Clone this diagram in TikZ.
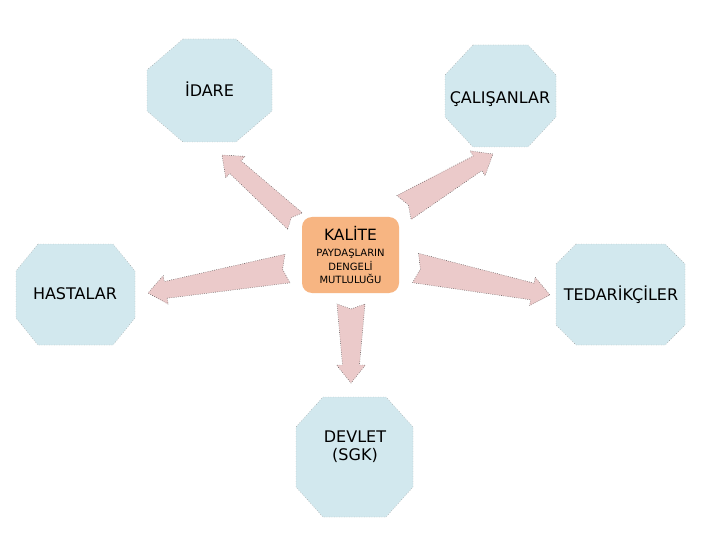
\documentclass[tikz,border=0pt]{standalone}
\usepackage{fontspec}
\setmainfont{DejaVu Sans}
\usetikzlibrary{calc}
\definecolor{octfill}{HTML}{D2E8EE}
\definecolor{arrfill}{HTML}{EBCACA}
\definecolor{kalfill}{HTML}{F7B582}
\tikzset{
  octa/.style={fill=octfill, draw=black!45, line width=0.4pt, dash pattern=on 0.5pt off 2pt},
  barrow/.style={fill=arrfill, draw=black!75, line width=0.45pt, dash pattern=on 0.6pt off 1.6pt},
  lbl/.style={font=\fontsize{16}{18}\selectfont, inner sep=0pt, align=center},
  oneline/.style={lbl, text height=11.7pt, text depth=0pt},
  core/.style={fill=kalfill, rounded corners=10pt, minimum width=97pt, minimum height=76pt,
    inner sep=0pt, align=center, font=\fontsize{10}{13.5}\selectfont}
}
\newcommand\octa[7]{% name cx cy w h cutx cuty
  \coordinate (#1) at (#2,#3);
  \path[octa] ($(#1)+({-#4/2+#6},{-#5/2})$) -- ($(#1)+({#4/2-#6},{-#5/2})$)
    -- ($(#1)+({#4/2},{-#5/2+#7})$) -- ($(#1)+({#4/2},{#5/2-#7})$)
    -- ($(#1)+({#4/2-#6},{#5/2})$) -- ($(#1)+({-#4/2+#6},{#5/2})$)
    -- ($(#1)+({-#4/2},{#5/2-#7})$) -- ($(#1)+({-#4/2},{-#5/2+#7})$) -- cycle;}
\newcommand\barr[3]{% tail tip halfwidth
  \coordinate (hb) at ($(#2)!18pt!(#1)$);
  \path[barrow] ($(#1)!#3pt!90:(#2)$) -- ($(hb)!8.5pt!90:(#2)$) -- ($(hb)!14.5pt!90:(#2)$)
    -- (#2) -- ($(hb)!14.5pt!-90:(#2)$) -- ($(hb)!8.5pt!-90:(#2)$)
    -- ($(#1)!#3pt!-90:(#2)$) -- ($(#1)!5pt!(#2)$) -- cycle;}
\begin{document}
\begin{tikzpicture}[x=1pt,y=-1pt]
\useasboundingbox (0,0) rectangle (720,540);
\fill[white] (0,0) rectangle (720,540);
% octagons
\octa{oidare}{209.5}{90.5}{125}{103}{36}{31}
\octa{ocalisan}{500.5}{96}{111}{102}{28}{30}
\octa{ohasta}{75.5}{294.5}{119}{101}{22}{27}
\octa{otedarik}{620.5}{294.5}{129}{101}{20}{20}
\octa{odevlet}{354.5}{457}{117}{120}{27}{30}
% arrow end points
\coordinate (t1) at (295,221);   \coordinate (p1) at (222,155);
\coordinate (t2) at (404,207.5); \coordinate (p2) at (493,154);
\coordinate (t3) at (287.5,268.5); \coordinate (p3) at (148,293);
\coordinate (t4) at (415.5,268); \coordinate (p4) at (550,295);
\coordinate (t5) at (351,304);   \coordinate (p5) at (351,383);
\barr{t1}{p1}{11}
\barr{t2}{p2}{14}
\barr{t3}{p3}{14.5}
\barr{t4}{p4}{15}
\barr{t5}{p5}{14}
% texts
\node[oneline] (idare) at (209.5,91) {İDARE};
\node[oneline] (calisan) at (500,98) {ÇALIŞANLAR};
\node[oneline] (hasta) at (75,294) {HASTALAR};
\node[oneline] (tedarik) at (621,295) {TEDARİKÇİLER};
\node[lbl] (devlet) at (355,447) {DEVLET\\(SGK)};
\node[core] (kalite) at (350.5,255) {{\fontsize{15.5}{15.5}\selectfont KALİTE}\\[3pt]PAYDAŞLARIN\\DENGELİ\\MUTLULUĞU};
\end{tikzpicture}
\end{document}
